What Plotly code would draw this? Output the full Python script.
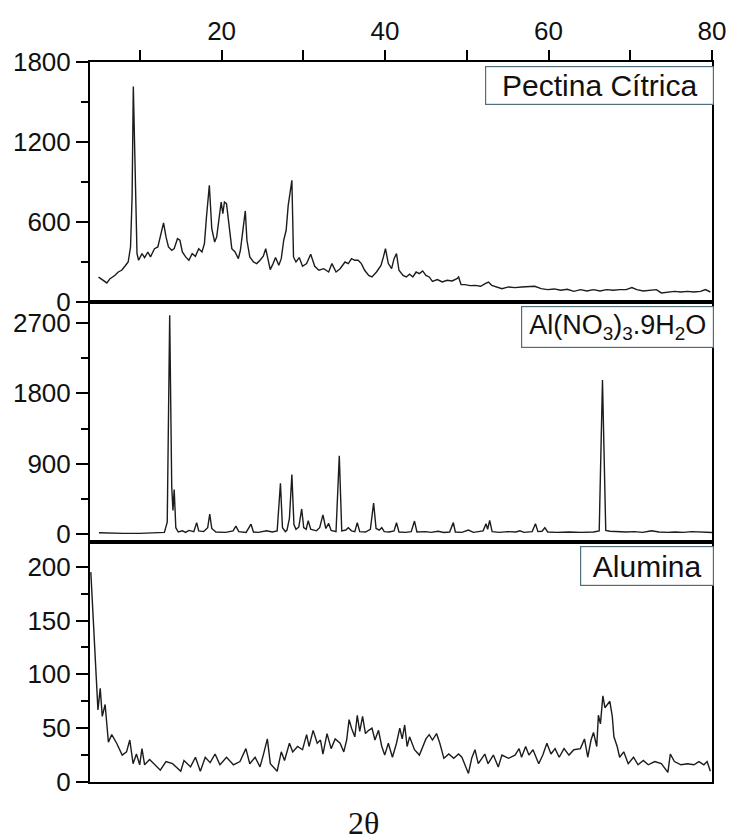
import plotly.graph_objects as go
from plotly.subplots import make_subplots

# ---- data ----
pectina_2theta = [4.95,5.55,5.96,6.36,6.96,7.36,7.77,8.17,8.57,8.86,9.05,9.2,9.46,9.65,9.85,10.26,10.58,10.98,11.3,11.79,12.2,12.6,12.9,13.2,13.5,13.9,14.2,14.6,14.9,15.2,15.6,16.0,16.4,16.8,17.2,17.6,17.9,18.15,18.5,18.8,19.15,19.4,19.75,19.95,20.15,20.35,20.6,20.9,21.25,21.65,22.05,22.3,22.65,22.9,23.1,23.45,23.9,24.3,24.7,25.1,25.4,25.7,25.95,26.3,26.6,27.0,27.3,27.6,27.9,28.15,28.4,28.6,28.8,29.1,29.5,29.9,30.4,30.9,31.4,31.9,32.5,33.1,33.5,34.0,34.5,35.1,35.5,35.9,36.3,36.7,37.1,37.5,38.0,38.4,38.95,39.5,39.8,40.05,40.4,40.8,41.1,41.4,41.7,42.2,42.6,43.0,43.4,43.8,44.2,44.6,45.0,45.4,45.8,46.4,47.0,47.6,48.2,48.8,49.0,49.3,49.8,50.4,51.0,51.7,52.25,52.65,53.05,53.7,54.3,55.1,55.9,56.7,57.5,58.3,59.1,59.9,60.7,61.5,62.3,63.1,63.9,64.7,65.5,66.3,67.1,67.9,68.7,69.5,70.2,70.8,71.6,72.4,73.2,73.8,74.6,75.4,76.2,77.0,77.8,78.6,79.2,79.8]
pectina_int = [187,163,143,175,200,225,238,268,300,413,788,1617,788,363,313,363,333,375,338,400,413,513,593,488,413,388,400,475,463,375,338,313,363,343,400,375,438,638,875,550,450,488,688,750,663,750,738,588,400,375,325,388,538,683,463,338,300,288,313,343,400,313,243,288,333,275,325,463,538,725,838,913,338,300,333,268,288,358,268,238,250,225,288,225,250,300,288,325,313,313,288,238,200,188,225,275,338,400,288,250,325,363,238,200,188,208,188,225,213,233,200,188,155,168,150,163,158,175,188,130,130,123,125,118,138,150,125,113,100,113,108,113,113,118,100,93,98,88,95,80,93,83,93,83,93,88,93,93,108,93,83,88,93,68,75,80,75,80,75,80,93,75]

nitrato_2theta = [5.0,6.0,8.0,10.0,12.0,13.0,13.35,13.65,13.9,14.05,14.2,14.4,14.7,15.2,15.6,16.0,16.6,16.95,17.2,17.8,18.3,18.55,18.8,19.3,20.5,21.4,21.75,22.1,23.0,23.6,23.9,24.5,25.5,26.2,26.8,27.2,27.45,27.8,28.0,28.3,28.6,28.85,29.1,29.45,29.8,30.05,30.35,30.6,30.9,31.3,31.6,32.0,32.4,32.75,33.1,33.4,34.0,34.4,34.7,35.2,35.5,35.9,36.3,36.6,36.9,37.6,38.2,38.6,38.9,39.3,39.6,39.9,40.5,41.1,41.4,41.7,42.5,43.2,43.6,43.9,45.0,45.6,46.5,47.2,47.9,48.35,48.6,49.4,50.2,50.8,51.5,52.0,52.35,52.55,52.8,53.1,54.0,55.0,56.0,56.5,57.0,58.0,58.4,58.7,59.2,59.55,59.9,61.0,62.5,64.0,65.5,66.2,66.6,67.0,67.5,68.5,69.5,70.5,71.5,72.3,72.6,73.5,74.5,75.5,76.5,77.5,78.5,79.5,80.0]
nitrato_int = [15,10,8,8,10,20,150,2800,600,300,570,80,25,40,20,45,30,145,40,30,80,255,70,25,20,40,100,30,20,125,25,20,40,25,40,650,80,30,50,200,760,120,60,90,320,80,60,170,60,50,40,80,245,70,135,45,30,1000,40,50,80,40,30,145,30,25,60,395,70,50,80,30,25,40,145,25,20,30,165,25,30,20,35,18,25,145,25,20,50,20,35,40,130,60,175,30,20,30,25,40,20,30,130,30,35,80,25,20,25,20,25,40,1970,45,35,30,25,30,20,35,40,25,20,25,20,30,25,20,18]

alumina_2theta = [4.0,4.2,4.55,4.87,5.15,5.4,5.75,6.15,6.56,7.16,7.84,8.37,8.77,9.17,9.58,9.98,10.26,10.58,11.19,11.79,12.5,13.2,14.0,15.0,15.4,16.2,16.8,17.4,18.0,18.6,19.2,19.8,20.6,21.45,22.25,22.97,23.45,24.1,24.7,25.1,25.6,25.96,26.8,27.3,27.7,28.3,28.7,29.3,29.9,30.4,30.7,31.2,31.7,32.1,32.4,32.9,33.4,33.9,34.5,34.95,35.3,35.6,35.9,36.3,36.6,36.9,37.25,37.6,38.0,38.4,38.76,39.2,39.6,39.96,40.4,40.9,41.4,41.8,42.1,42.4,42.7,43.0,43.6,44.2,44.6,45.0,45.4,45.8,46.3,46.7,47.2,47.8,48.4,49.0,49.4,50.2,50.6,51.0,51.4,52.2,52.6,53.25,53.85,54.3,55.1,55.9,56.4,56.7,57.2,57.6,58.1,58.8,59.3,59.8,60.3,60.8,61.3,61.9,62.5,63.1,63.9,64.4,64.8,65.2,65.5,65.9,66.1,66.35,66.65,66.9,67.2,67.5,67.8,68.0,68.4,68.7,69.2,69.75,70.4,70.95,71.6,72.2,73.0,73.8,74.6,74.9,75.4,76.2,77.0,77.8,78.4,79.0,79.4,79.8]
alumina_int = [195,165,123,67,87,61,72,37,44,36,25,28,39,17,26,16,31,16,21,16,11,19,17,10,20,14,23,10,23,18,26,16,23,16,19,31,17,23,14,25,40,17,10,28,20,36,28,33,30,44,33,48,36,39,26,45,31,40,36,28,39,58,50,42,62,47,61,45,48,50,39,48,33,25,36,23,36,50,40,53,33,42,30,25,33,40,44,39,45,36,22,26,22,26,23,8,22,30,17,26,17,25,14,25,22,25,31,23,33,25,30,17,25,36,26,31,23,31,25,30,31,40,23,39,46,33,62,54,80,69,72,75,61,42,33,23,28,17,23,16,20,16,19,17,9,26,19,16,17,16,19,16,19,10]

labels = ["Pectina Cítrica", "Al(NO<sub>3</sub>)<sub>3</sub>.9H<sub>2</sub>O", "Alumina"]
x_ticks = [10, 20, 30, 40, 50, 60, 70, 80]
x_ticktext = ["", "20", "", "40", "", "60", "", "80"]

FONT = "Liberation Sans, Arial, sans-serif"
LINE = "#1c1c1c"

fig = make_subplots(rows=3, cols=1, shared_xaxes=True, vertical_spacing=0)
series = [(pectina_2theta, pectina_int), (nitrato_2theta, nitrato_int), (alumina_2theta, alumina_int)]
for i, (xs, ys) in enumerate(series, start=1):
    fig.add_trace(go.Scatter(x=xs, y=ys, mode="lines",
                             line=dict(color=LINE, width=1.4),
                             showlegend=False, hoverinfo="skip"), row=i, col=1)

xcommon = dict(range=[3.9, 80], showline=True, linecolor="black", linewidth=2,
               mirror=True, showgrid=False, zeroline=False)
fig.update_xaxes(**xcommon)
fig.update_xaxes(row=1, col=1, side="top", ticks="outside", ticklen=10, tickwidth=1.5,
                 tickcolor="black", tickvals=x_ticks, ticktext=x_ticktext,
                 showticklabels=True, tickfont=dict(family=FONT, size=26, color="#111"))
fig.update_xaxes(row=2, col=1, ticks="", showticklabels=False)
fig.update_xaxes(row=3, col=1, ticks="", showticklabels=False)

ycommon = dict(showline=True, linecolor="black", linewidth=2, mirror=True,
               showgrid=False, zeroline=False, ticks="outside", ticklen=12,
               tickwidth=1.5, tickcolor="black",
               tickfont=dict(family=FONT, size=26, color="#111"))
fig.update_yaxes(row=1, col=1, range=[0, 1800], tickvals=[0, 600, 1200, 1800],
                 minor=dict(tickvals=[300, 900, 1500], ticks="outside", ticklen=7, tickcolor="black", tickwidth=1.5),
                 **ycommon)
fig.update_yaxes(row=2, col=1, range=[-103, 2970], tickvals=[0, 900, 1800, 2700],
                 minor=dict(tickvals=[450, 1350, 2250], ticks="outside", ticklen=7, tickcolor="black", tickwidth=1.5),
                 **ycommon)
fig.update_yaxes(row=3, col=1, range=[0, 223], tickvals=[0, 50, 100, 150, 200],
                 minor=dict(tickvals=[25, 75, 125, 175], ticks="outside", ticklen=7, tickcolor="black", tickwidth=1.5),
                 **ycommon)

box_specs = [(225, 35, 30), (189, 38, 27), (130, 36, 30)]
yrefs = ["y domain", "y2 domain", "y3 domain"]
for lab, (w, h, fs), yr in zip(labels, box_specs, yrefs):
    fig.add_annotation(text=lab, xref="paper", yref=yr, x=1, y=1,
                       xanchor="right", yanchor="top", xshift=2, yshift=-4,
                       showarrow=False, width=w, height=h, align="center", valign="middle",
                       bordercolor="#4f6f7c", borderwidth=1.2, borderpad=1,
                       bgcolor="white",
                       font=dict(family=FONT, size=fs, color="#111"))

fig.add_annotation(text="2θ", xref="paper", yref="paper", x=0.44, y=-0.057,
                   xanchor="center", yanchor="middle", showarrow=False,
                   font=dict(family="Liberation Serif, Times New Roman, serif", size=32, color="#111"))

fig.update_layout(width=738, height=840, margin=dict(l=90, r=19, t=62, b=58),
                  plot_bgcolor="white", paper_bgcolor="white")

fig.write_html("out.html")
